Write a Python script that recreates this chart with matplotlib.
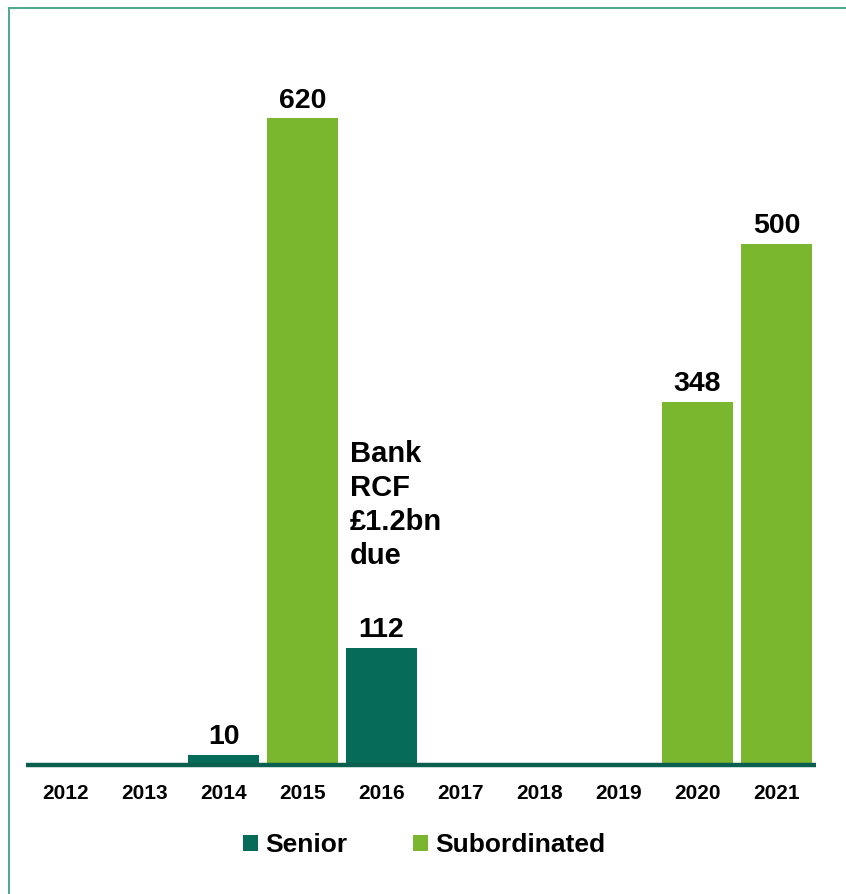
import matplotlib
matplotlib.use("Agg")
import matplotlib.pyplot as plt
from matplotlib.patches import Patch
from matplotlib.lines import Line2D

# Maturity profile (£m)
years = ["2012", "2013", "2014", "2015", "2016", "2017", "2018", "2019", "2020", "2021"]
senior = [0, 0, 10, 0, 112, 0, 0, 0, 0, 0]
subordinated = [0, 0, 0, 620, 0, 0, 0, 0, 348, 500]
note_text = "Bank\nRCF\n£1.2bn\ndue"
legend_labels = ["Senior", "Subordinated"]

SENIOR_C = "#066b58"
SUB_C = "#7ab62e"
BASE_C = "#0b5f4e"
FRAME_C = "#4aa891"

W, H, DPI = 846, 894, 100
fig = plt.figure(figsize=(W / DPI, H / DPI), dpi=DPI)
fig.patch.set_facecolor("white")

ax = fig.add_axes([26 / W, (H - 765) / H, 790 / W, 730 / H])
ax.set_xlim(-0.5, len(years) - 0.5)
ax.set_ylim(0, 700)

x = list(range(len(years)))
bw = 0.91
for i in x:
    if senior[i] > 0:
        ax.bar(i, senior[i], width=bw, color=SENIOR_C, zorder=2)
    if subordinated[i] > 0:
        ax.bar(i, subordinated[i], width=bw, color=SUB_C, zorder=2)

value_font = dict(family=["Liberation Sans", "DejaVu Sans"], fontweight="bold", color="black")
for i in x:
    v = senior[i] + subordinated[i]
    if v > 0:
        ax.annotate(str(v), (i, v), xytext=(0, 3.5), textcoords="offset points",
                    ha="center", va="bottom", fontsize=20.5, **value_font)

ax.text(4 - bw / 2 + 0.05, 312, note_text, ha="left", va="top",
        linespacing=1.28, fontsize=21, **value_font)

ax.axhline(0, color=BASE_C, linewidth=3.2, zorder=3, clip_on=False,
           solid_capstyle="butt")

ax.set_xticks(x)
ax.set_xticklabels(years, fontsize=15, fontweight="bold", family="Liberation Sans")
ax.tick_params(axis="x", length=0, pad=14)
ax.set_yticks([])
for s in ax.spines.values():
    s.set_visible(False)

handles = [Patch(facecolor=SENIOR_C), Patch(facecolor=SUB_C)]
fig.legend(handles, legend_labels, loc="center", bbox_to_anchor=(424 / W, 1 - 845 / H),
           ncol=2, frameon=False, handlelength=0.57, handleheight=0.57,
           handletextpad=0.27, columnspacing=2.5,
           prop=dict(family="Liberation Sans", weight="bold", size=19))

# frame lines along the top and left edges
fig.add_artist(Line2D([9 / W, 1], [1 - 8 / H, 1 - 8 / H], color=FRAME_C, linewidth=1.4))
fig.add_artist(Line2D([9 / W, 9 / W], [0, 1 - 8 / H], color=FRAME_C, linewidth=1.4))

fig.savefig("out.png", dpi=DPI, facecolor="white")
